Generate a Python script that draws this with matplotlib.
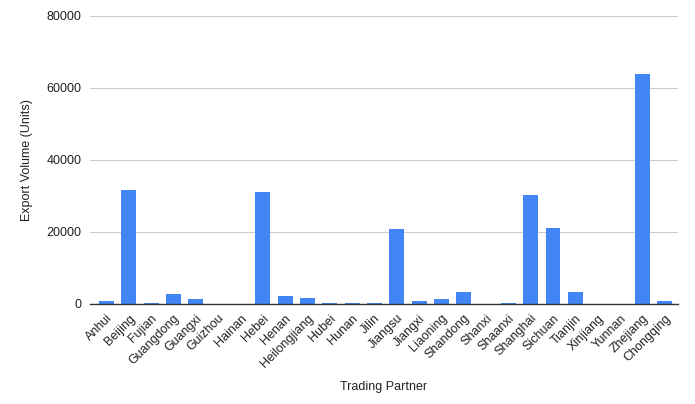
import matplotlib
matplotlib.use('Agg')
import matplotlib.pyplot as plt

plt.rcParams['font.family'] = ['Liberation Sans', 'DejaVu Sans']

partners = ['Anhui', 'Beijing', 'Fujian', 'Guangdong', 'Guangxi', 'Guizhou', 'Hainan',
            'Hebei', 'Henan', 'Heilongjiang', 'Hubei', 'Hunan', 'Jilin', 'Jiangsu',
            'Jiangxi', 'Liaoning', 'Shandong', 'Shanxi', 'Shaanxi', 'Shanghai',
            'Sichuan', 'Tianjin', 'Xinjiang', 'Yunnan', 'Zhejiang', 'Chongqing']
volumes = [700, 31700, 300, 2800, 1400, 0, 0,
           31100, 2200, 1700, 400, 400, 150, 20800,
           900, 1400, 3300, 0, 150, 30300,
           21100, 3300, 0, 0, 63800, 900]
y_ticks = [0, 20000, 40000, 60000, 80000]

fig = plt.figure(figsize=(6.95, 4.04), dpi=100)
ax = fig.add_axes([90 / 695, 1 - 304 / 404, 588 / 695, 288 / 404])

ax.bar(range(len(partners)), volumes, width=0.67, color='#4285f4', zorder=3)

# a bit more room on the left than the right, like the original
ax.set_xlim(-0.74, len(partners) - 0.4)
ax.set_ylim(0, 80000)
ax.set_yticks(y_ticks)
ax.set_yticklabels([str(t) for t in y_ticks], fontsize=9, color='#222222')
ax.set_xticks(range(len(partners)))
ax.set_xticklabels(partners, rotation=45, ha='right', rotation_mode='anchor',
                   fontsize=9, color='#222222')
ax.tick_params(axis='both', length=0, pad=6)
ax.grid(axis='y', color='#cccccc', linewidth=0.8, zorder=0)

for side in ['top', 'right', 'left']:
    ax.spines[side].set_visible(False)
ax.spines['bottom'].set_color('#333333')
ax.spines['bottom'].set_linewidth(1)
ax.spines['bottom'].set_zorder(4)

ax.set_xlabel('Trading Partner', fontsize=9, color='#222222', labelpad=8)
ax.set_ylabel('Export Volume (Units)', fontsize=9, color='#222222', labelpad=10)

fig.savefig('out.png', dpi=100)
